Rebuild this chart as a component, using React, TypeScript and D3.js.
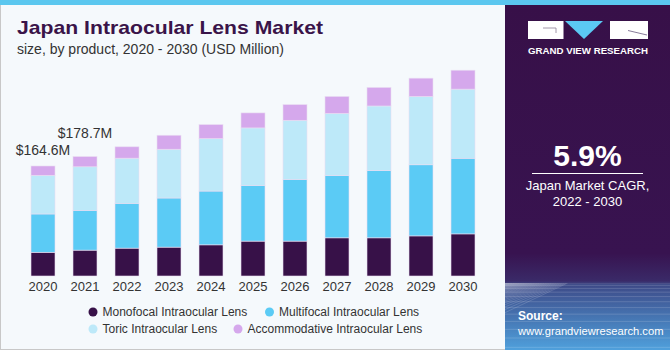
import React from "react";
import * as d3 from "d3";

const years = ["2020","2021","2022","2023","2024","2025","2026","2027","2028","2029","2030"];
const monofocal = [35.5, 38.7, 41.7, 43.2, 46.6, 52.2, 52.2, 57.1, 57.1, 60.0, 63.0];
const multifocal = [57.3, 59.6, 67.1, 73.5, 80.5, 83.4, 92.4, 93.4, 100.9, 106.4, 113.2];
const toric = [57.9, 65.1, 67.5, 73.0, 78.5, 86.0, 88.4, 92.8, 96.4, 102.2, 103.4];
const accommodative = [13.9, 15.3, 17.0, 20.9, 20.9, 22.4, 23.4, 25.3, 27.7, 27.4, 28.3];
const seriesNames = ["Monofocal Intraocular Lens", "Multifocal Intraocular Lens", "Toric Intraocular Lens", "Accommodative Intraocular Lens"];
const seriesKeys = ["mono", "multi", "toric", "accom"];
const colors = ["#371148", "#5bcbf5", "#bde9f9", "#d5a8ec"];
const valueLabels = [{ year: "2020", text: "$164.6M", off: 11 }, { year: "2021", text: "$178.7M", off: 19 }];

const FONT = "'Liberation Sans', Arial, sans-serif";

export default function App() {
  const rows = years.map((yr, i) => ({
    year: yr, mono: monofocal[i], multi: multifocal[i], toric: toric[i], accom: accommodative[i],
  }));
  const stack = d3.stack<any>().keys(seriesKeys)(rows);
  const x = d3.scaleBand<string>().domain(years).range([22, 484]).paddingInner(18 / 42).paddingOuter(9 / 42);
  const y = d3.scaleLinear().domain([0, 300]).range([276, 75.5]);
  const totals = rows.map((r) => r.mono + r.multi + r.toric + r.accom);

  // perspective grid for panel
  const px0 = 505, px1 = 670;
  const vpX = 587;
  const hLines: number[] = [];
  for (let k = 0; k < 14; k++) hLines.push(283 + 2 * k + 0.35 * k * k);
  const vLines: number[] = d3.range(-260, 440, 14);

  const legendItems = [
    { i: 0, cx: 93, cy: 312 },
    { i: 1, cx: 269.5, cy: 312 },
    { i: 2, cx: 93, cy: 329 },
    { i: 3, cx: 238, cy: 329 },
  ];

  return (
    <svg width={670} height={350} style={{ position: "absolute", left: 0, top: 0 }} fontFamily={FONT}>
      <defs>
        <linearGradient id="panelGrad" x1="0" y1="0" x2="0" y2="1">
          <stop offset="0%" stopColor="#371048" />
          <stop offset="72%" stopColor="#381350" />
          <stop offset="80%" stopColor="#3a2a68" />
          <stop offset="81%" stopColor="#3d4a88" />
          <stop offset="100%" stopColor="#4fa0dc" />
        </linearGradient>
        <clipPath id="panelClip">
          <rect x={px0} y={283} width={px1 - px0} height={67} />
        </clipPath>
      </defs>
      <rect x={0} y={0} width={670} height={350} fill="#f5f9fc" />
      <rect x={0.5} y={0.5} width={669} height={349} fill="none" stroke="#c8c8c8" />
      <rect x={0} y={0} width={670} height={5} fill="#5bc7ef" />

      {/* Title */}
      <text x={17} y={33.5} fontSize={19} fontWeight="bold" fill="#3a1449" textLength={306} lengthAdjust="spacingAndGlyphs">
        Japan Intraocular Lens Market
      </text>
      <text x={17} y={53.5} fontSize={14} fill="#333">size, by product, 2020 - 2030 (USD Million)</text>

      {/* Bars */}
      {stack.map((s, si) => (
        <g key={seriesKeys[si]}>
          {s.map((d, i) => (
            <rect key={i} x={x(years[i])} y={y(d[1])} width={x.bandwidth()} height={y(d[0]) - y(d[1])}
              fill={colors[si]} stroke="#e9ddf2" strokeWidth={0.6} />
          ))}
        </g>
      ))}

      {/* X axis labels */}
      {years.map((yr) => (
        <text key={yr} x={(x(yr) as number) + x.bandwidth() / 2} y={290.5} fontSize={13} fill="#333" textAnchor="middle">{yr}</text>
      ))}

      {/* value labels */}
      {valueLabels.map((v) => {
        const i = years.indexOf(v.year);
        return (
          <text key={v.year} x={(x(v.year) as number) + x.bandwidth() / 2} y={y(totals[i]) - v.off} fontSize={14} fill="#333" textAnchor="middle">{v.text}</text>
        );
      })}

      {/* Legend */}
      {legendItems.map((l) => (
        <g key={l.i}>
          <circle cx={l.cx} cy={l.cy} r={4.5} fill={colors[l.i]} />
          <text x={l.cx + 9.5} y={l.cy + 4.3} fontSize={12} fill="#333">{seriesNames[l.i]}</text>
        </g>
      ))}

      {/* Right panel */}
      <rect x={px0} y={5} width={px1 - px0} height={345} fill="url(#panelGrad)" />
      <g clipPath="url(#panelClip)" stroke="#ffffff" strokeOpacity={0.22} strokeWidth={0.7}>
        {hLines.map((hy, k) => (
          <line key={"h" + k} x1={px0} x2={px1} y1={hy} y2={hy} />
        ))}
        {vLines.map((vx, k) => (
          <line key={"v" + k} x1={vpX + (vx - vpX) * 0.12} y1={283} x2={vx} y2={350} />
        ))}
      </g>

      {/* Logo */}
      <rect x={528} y={21} width={35.5} height={18} fill="#ffffff" />
      <polyline points="543,28 556,28 556,33" fill="none" stroke="#8a7f96" strokeWidth={0.8} />
      <polygon points="565,21 603,21 584,39" fill="#5bc8f3" />
      <rect x={610} y={21} width={38} height={18} fill="#ffffff" />
      <line x1={628} y1={30.5} x2={647} y2={35} stroke="#6a5a80" strokeWidth={0.8} />
      <text x={588} y={53.8} fontSize={8.6} fontWeight="bold" fill="#ffffff" textAnchor="middle" textLength={120} lengthAdjust="spacingAndGlyphs">
        GRAND VIEW RESEARCH
      </text>

      {/* CAGR */}
      <text x={587.5} y={166} fontSize={30} fontWeight="bold" fill="#ffffff" textAnchor="middle">5.9%</text>
      <line x1={532} x2={643} y1={173.5} y2={173.5} stroke="#ffffff" strokeWidth={1} />
      <text x={587.5} y={190} fontSize={13} fill="#ffffff" textAnchor="middle">Japan Market CAGR,</text>
      <text x={587.5} y={206} fontSize={13} fill="#ffffff" textAnchor="middle">2022 - 2030</text>

      {/* Source */}
      <text x={518} y={320} fontSize={12} fontWeight="bold" fill="#ffffff">Source:</text>
      <text x={518} y={335} fontSize={11.2} fill="#ffffff">www.grandviewresearch.com</text>
    </svg>
  );
}
